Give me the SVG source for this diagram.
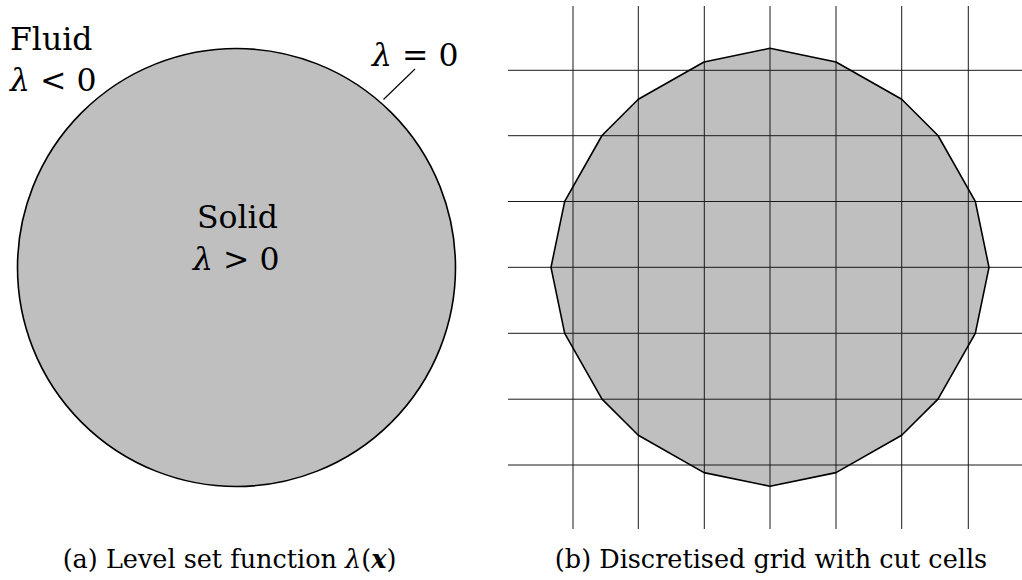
<svg xmlns="http://www.w3.org/2000/svg" width="1022" height="580" viewBox="0 0 1022 580">
<style>
  text { font-family: "DejaVu Serif", "Liberation Serif", serif; fill: #000; }
  .lbl { font-size: 31.5px; }
  .cap { font-size: 25.5px; text-anchor: middle; }
  .it { font-style: italic; }
  .bi { font-style: italic; font-weight: bold; }
  .grid line { stroke: #1a1a1a; stroke-width: 1; }
  .solid { fill: #bfbfbf; }
  .edge { fill: none; stroke: #000; stroke-width: 1.6; stroke-linejoin: round; }
</style>
<rect x="0" y="0" width="1022" height="580" fill="#fff"/>

<g id="panel-a">
  <circle id="level-set-circle" class="solid" cx="236.5" cy="267.5" r="219"/>
  <circle class="edge" cx="236.5" cy="267.5" r="219"/>
  <line id="leader" x1="415" y1="69" x2="383.5" y2="99.5" stroke="#000" stroke-width="1.1"/>
  <text class="lbl" x="10" y="50">Fluid</text>
  <text class="lbl" x="10" y="90.7"><tspan class="it">λ</tspan> &lt; 0</text>
  <text class="lbl" x="372" y="65.7"><tspan class="it">λ</tspan> = 0</text>
  <text class="lbl" x="197" y="228">Solid</text>
  <text class="lbl" x="193" y="270"><tspan class="it">λ</tspan> &gt; 0</text>
  <text class="cap" x="229.5" y="568">(a) Level set function <tspan class="it">λ</tspan>(<tspan class="bi">x</tspan>)</text>
</g>

<g id="panel-b">
  <polygon id="cut-cell-body" class="solid" points="770,48.3 836,62 901.7,99.3 938,135.5 975.3,201.3 989,267.3 975.3,333.3 938,399.1 901.7,435.3 836,472.6 770,486.3 704,472.6 638.3,435.3 602,399.1 564.7,333.3 551,267.3 564.7,201.3 602,135.5 638.3,99.3 704,62"/>
  <g id="grid" class="grid">
    <line x1="573" y1="6" x2="573" y2="529"/>
    <line x1="638.3" y1="6" x2="638.3" y2="529"/>
    <line x1="704.3" y1="6" x2="704.3" y2="529"/>
    <line x1="770" y1="6" x2="770" y2="529"/>
    <line x1="836" y1="6" x2="836" y2="529"/>
    <line x1="901.7" y1="6" x2="901.7" y2="529"/>
    <line x1="968.3" y1="6" x2="968.3" y2="529"/>
    <line x1="508" y1="70.3" x2="1022" y2="70.3"/>
    <line x1="508" y1="135.7" x2="1022" y2="135.7"/>
    <line x1="508" y1="201.5" x2="1022" y2="201.5"/>
    <line x1="508" y1="267.3" x2="1022" y2="267.3"/>
    <line x1="508" y1="333.3" x2="1022" y2="333.3"/>
    <line x1="508" y1="399.2" x2="1022" y2="399.2"/>
    <line x1="508" y1="465" x2="1022" y2="465"/>
  </g>
  <polygon class="edge" points="770,48.3 836,62 901.7,99.3 938,135.5 975.3,201.3 989,267.3 975.3,333.3 938,399.1 901.7,435.3 836,472.6 770,486.3 704,472.6 638.3,435.3 602,399.1 564.7,333.3 551,267.3 564.7,201.3 602,135.5 638.3,99.3 704,62"/>
  <text class="cap" x="771" y="568">(b) Discretised grid with cut cells</text>
</g>
</svg>
